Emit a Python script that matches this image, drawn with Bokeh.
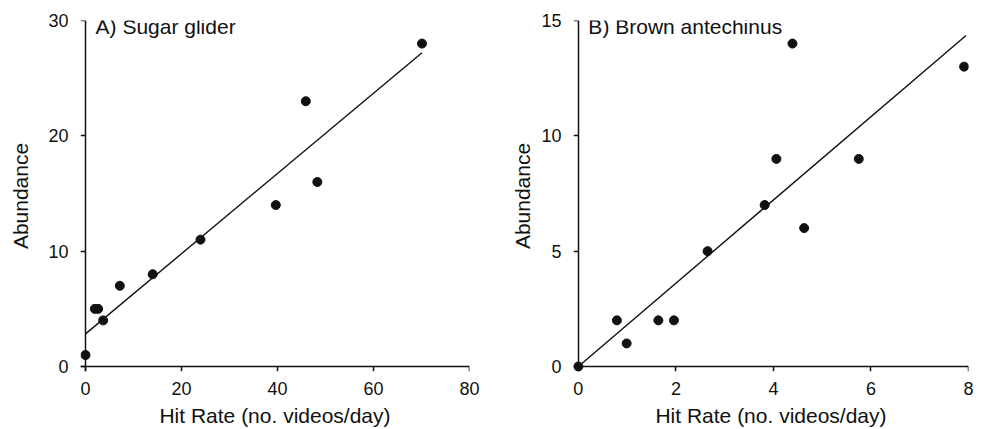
from bokeh.plotting import figure
from bokeh.models import Range1d, FixedTicker, Label, LinearAxis
from bokeh.layouts import row
from bokeh.embed import file_html
from bokeh.resources import INLINE

# ---- Panel A: Sugar glider ----
a_hit_rate = [0, 1.94, 2.64, 3.68, 7.15, 14.0, 23.96, 39.65, 45.9, 48.3, 70.1]
a_abundance = [1, 5, 5, 4, 7, 8, 11, 14, 23, 16, 28]
a_fit_x = [0, 70.1]
a_fit_y = [2.83, 27.2]
a_xticks = [0, 20, 40, 60, 80]
a_yticks = [0, 10, 20, 30]
a_title = "A) Sugar glider"

# ---- Panel B: Brown antechinus ----
b_hit_rate = [0, 0.79, 0.99, 1.64, 1.96, 2.65, 3.82, 4.06, 4.39, 4.63, 5.75, 7.91]
b_abundance = [0, 2, 1, 2, 2, 5, 7, 9, 14, 6, 9, 13]
b_fit_x = [0, 7.95]
b_fit_y = [0, 14.35]
b_xticks = [0, 2, 4, 6, 8]
b_yticks = [0, 5, 10, 15]
b_title = "B) Brown antechinus"

x_label = "Hit Rate (no. videos/day)"
y_label = "Abundance"

FONT = "Liberation Sans"
INK = "#111111"


def make_panel(xs, ys, fx, fy, xticks, yticks, xr, yr, title, tx, ty,
               width, left, right, ylab_standoff):
    p = figure(width=width, height=429, output_backend="svg",
               toolbar_location=None, x_range=Range1d(*xr),
               y_range=Range1d(*yr), min_border_left=left,
               min_border_right=right, min_border_top=20,
               min_border_bottom=58, x_axis_location="above")
    p.outline_line_color = None
    p.grid.visible = False
    p.background_fill_color = "white"
    p.border_fill_color = "white"

    p.line(fx, fy, line_color=INK, line_width=1.4)
    p.scatter(xs, ys, size=9, fill_color=INK, line_color=INK)

    # default axes: drawn through the data origin, lines + ticks only
    for ax in (p.xaxis[0], p.yaxis[0]):
        ax.axis_line_color = INK
        ax.axis_line_width = 1.5
        ax.major_tick_line_color = INK
        ax.major_tick_line_width = 1.5
        ax.minor_tick_line_color = None
        ax.major_label_text_color = None
        ax.major_label_text_font_size = "1px"
        ax.major_label_standoff = 0
        ax.fixed_location = 0
    # x axis lives in the "above" panel: ticks pointing down = "in"
    p.xaxis[0].major_tick_out = 0
    p.xaxis[0].major_tick_in = 5
    p.yaxis[0].major_tick_out = 5
    p.yaxis[0].major_tick_in = 0
    p.xaxis[0].ticker = FixedTicker(ticks=xticks)
    p.yaxis[0].ticker = FixedTicker(ticks=yticks)

    # label-only axes at the frame edges
    xl = LinearAxis(ticker=FixedTicker(ticks=xticks), axis_label=x_label)
    yl = LinearAxis(ticker=FixedTicker(ticks=yticks), axis_label=y_label)
    for ax in (xl, yl):
        ax.axis_line_color = None
        ax.major_tick_line_color = None
        ax.minor_tick_line_color = None
        ax.major_tick_out = 0
        ax.major_tick_in = 0
        ax.minor_tick_out = 0
        ax.major_label_text_font = FONT
        ax.major_label_text_font_size = "18px"
        ax.major_label_text_color = INK
        ax.axis_label_text_font = FONT
        ax.axis_label_text_font_size = "21px"
        ax.axis_label_text_font_style = "normal"
        ax.axis_label_text_color = INK
    xl.major_label_standoff = 10
    xl.axis_label_standoff = 6
    yl.major_label_standoff = 12
    yl.axis_label_standoff = ylab_standoff
    p.add_layout(xl, "below")
    p.add_layout(yl, "left")

    p.add_layout(Label(x=tx, y=ty, text=title, text_font=FONT,
                       text_font_size="21px", text_color=INK,
                       text_baseline="alphabetic"))
    return p


pa = make_panel(a_hit_rate, a_abundance, a_fit_x, a_fit_y, a_xticks, a_yticks,
                (-1.04, 80), (-0.43, 30), a_title, 2.1, 29.44,
                490, 80, 21, 13)
pb = make_panel(b_hit_rate, b_abundance, b_fit_x, b_fit_y, b_xticks, b_yticks,
                (-0.1, 8), (-0.217, 15), b_title, 0.205, 14.72,
                493, 83, 15, 4)

layout = row(pa, pb)
open("out.html", "w").write(file_html(layout, INLINE))
